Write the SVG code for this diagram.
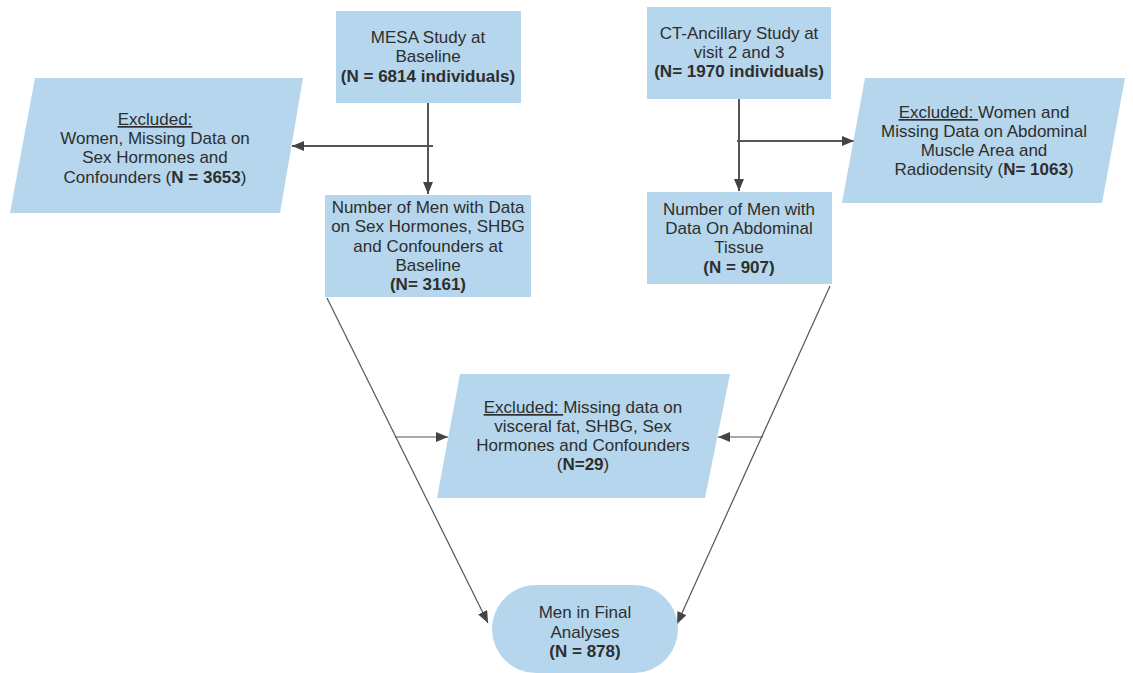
<svg xmlns="http://www.w3.org/2000/svg" width="1133" height="673" viewBox="0 0 1133 673">
<defs>
<style>
.box{fill:#b5d6ec;stroke:none}
.t{font-family:"Liberation Sans",Arial,sans-serif;font-size:17px;fill:#2e2e2e;text-anchor:middle}
.b{font-weight:bold}
.u{text-decoration:underline}
.c{fill:none;stroke:#555;stroke-width:2}
.d{fill:none;stroke:#555;stroke-width:1.2}
</style>
<marker id="ah" markerUnits="userSpaceOnUse" markerWidth="13" markerHeight="11" refX="12" refY="5" orient="auto">
<path d="M0,0 L12,5 L0,10 z" fill="#444"/>
</marker>
</defs>
<rect width="1133" height="673" fill="#ffffff"/>
<g id="connectors">
<line class="c" x1="428" y1="103" x2="428" y2="194" marker-end="url(#ah)"/>
<line class="c" x1="433" y1="146" x2="292" y2="146" marker-end="url(#ah)"/>
<line class="c" x1="739" y1="99" x2="739" y2="191" marker-end="url(#ah)"/>
<line class="c" x1="737" y1="141" x2="854" y2="141" marker-end="url(#ah)"/>
<line class="d" x1="327" y1="298" x2="488" y2="623" marker-end="url(#ah)"/>
<line class="d" x1="830" y1="286" x2="677" y2="624" marker-end="url(#ah)"/>
<line class="d" x1="395" y1="437" x2="448" y2="437" marker-end="url(#ah)"/>
<line class="d" x1="763" y1="437" x2="718" y2="437" marker-end="url(#ah)"/>
</g>
<g id="mesa">
<rect class="box" x="336" y="11" width="185" height="92"/>
<text class="t" x="428" y="43">MESA Study at</text>
<text class="t" x="428" y="62">Baseline</text>
<text class="t b" x="428" y="82">(N = 6814 individuals)</text>
</g>
<g id="excluded-left">
<polygon class="box" points="35,78 303,78 280,213 10,213"/>
<text class="t" x="155" y="125"><tspan class="u">Excluded:</tspan></text>
<text class="t" x="155" y="144">Women, Missing Data on</text>
<text class="t" x="155" y="163">Sex Hormones and</text>
<text class="t" x="155" y="183">Confounders (<tspan class="b">N = 3653</tspan>)</text>
</g>
<g id="men-baseline">
<rect class="box" x="325" y="195" width="206" height="102"/>
<text class="t" x="428" y="213">Number of Men with Data</text>
<text class="t" x="428" y="232">on Sex Hormones, SHBG</text>
<text class="t" x="428" y="252">and Confounders at</text>
<text class="t" x="428" y="271">Baseline</text>
<text class="t b" x="428" y="290">(N= 3161)</text>
</g>
<g id="ct">
<rect class="box" x="647" y="7" width="184" height="92"/>
<text class="t" x="739" y="39">CT-Ancillary Study at</text>
<text class="t" x="739" y="58">visit 2 and 3</text>
<text class="t b" x="739" y="77">(N= 1970 individuals)</text>
</g>
<g id="excluded-right">
<polygon class="box" points="865,78 1125,78 1102,203 842,203"/>
<text class="t" x="984" y="118"><tspan class="u">Excluded: </tspan>Women and</text>
<text class="t" x="984" y="137">Missing Data on Abdominal</text>
<text class="t" x="984" y="156">Muscle Area and</text>
<text class="t" x="984" y="175">Radiodensity (<tspan class="b">N= 1063</tspan>)</text>
</g>
<g id="men-abdominal">
<rect class="box" x="647" y="192" width="185" height="92"/>
<text class="t" x="739" y="215">Number of Men with</text>
<text class="t" x="739" y="234">Data On Abdominal</text>
<text class="t" x="739" y="253">Tissue</text>
<text class="t b" x="739" y="273">(N = 907)</text>
</g>
<g id="excluded-middle">
<polygon class="box" points="460,374 730,374 705,498 437,498"/>
<text class="t" x="583" y="413"><tspan class="u">Excluded: </tspan>Missing data on</text>
<text class="t" x="583" y="432">visceral fat, SHBG, Sex</text>
<text class="t" x="583" y="451">Hormones and Confounders</text>
<text class="t" x="583" y="470">(<tspan class="b">N=29</tspan>)</text>
</g>
<g id="final">
<rect class="box" x="492" y="585" width="186" height="88" rx="44" ry="44"/>
<text class="t" x="585" y="618">Men in Final</text>
<text class="t" x="585" y="638">Analyses</text>
<text class="t b" x="585" y="657">(N = 878)</text>
</g>
</svg>
